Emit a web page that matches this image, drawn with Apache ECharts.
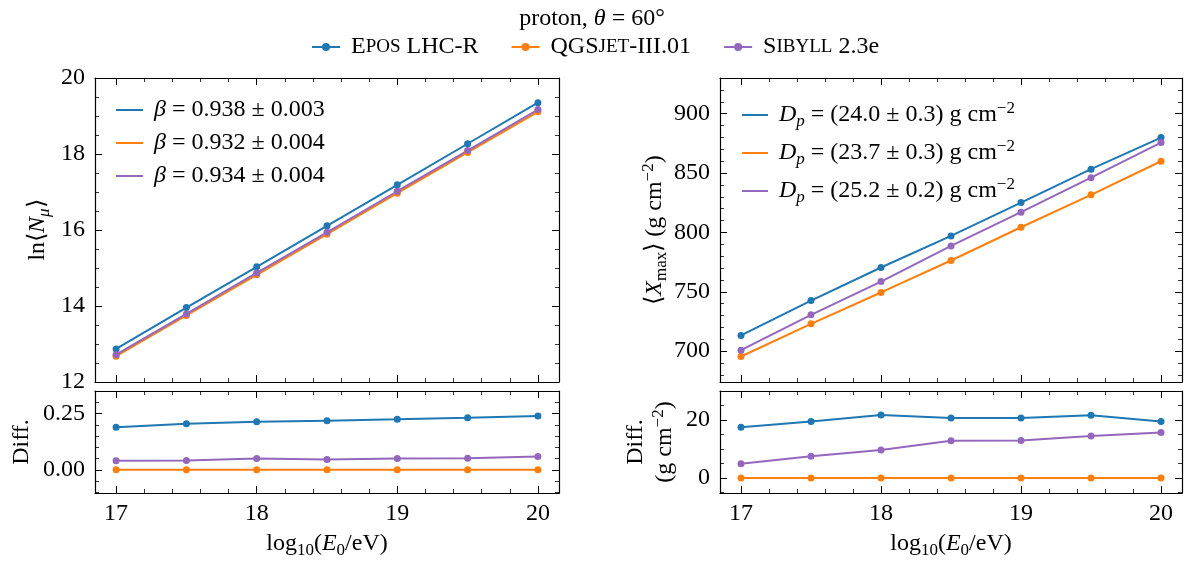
<!DOCTYPE html>
<html>
<head>
<meta charset="utf-8">
<title>proton, theta = 60</title>
<script src="https://cdn.jsdelivr.net/npm/echarts@6/dist/echarts.min.js"></script>
<style>
html, body { margin: 0; padding: 0; background: #fff; }
#main { width: 1184px; height: 565px; }
</style>
</head>
<body>
<div id="main"></div>
<script>
// --- data ---
const energies = [17, 17.5, 18, 18.5, 19, 19.5, 20];
const models = ['Epos LHC-R', 'QGSjet-III.01', 'Sibyll 2.3e'];
const colors = ['#1f77b4', '#ff7f0e', '#9467bd'];

// ln<N_mu>
const lnNmuEpos = [12.87, 13.96, 15.03, 16.11, 17.19, 18.27, 19.35];
const lnNmuQgs  = [12.68, 13.75, 14.82, 15.89, 16.97, 18.04, 19.11];
const lnNmuSib  = [12.72, 13.79, 14.87, 15.94, 17.02, 18.09, 19.17];
// difference to QGSjet
const diffNmuEpos = [0.190, 0.205, 0.214, 0.219, 0.225, 0.232, 0.240];
const diffNmuQgs  = [0, 0, 0, 0, 0, 0, 0];
const diffNmuSib  = [0.040, 0.042, 0.051, 0.046, 0.051, 0.052, 0.060];

// <X_max>
const xmaxEpos = [713.2, 742.6, 770.4, 797.0, 825.1, 853.2, 879.8];
const xmaxQgs  = [695.5, 723.0, 749.4, 776.3, 804.3, 831.6, 859.9];
const xmaxSib  = [700.8, 730.6, 758.6, 788.6, 817.0, 846.1, 875.6];
const diffXmaxEpos = [17.5, 19.5, 21.7, 20.7, 20.7, 21.6, 19.5];
const diffXmaxQgs  = [0, 0, 0, 0, 0, 0, 0];
const diffXmaxSib  = [4.9, 7.5, 9.6, 12.8, 12.9, 14.5, 15.7];

const betaLabels = ['β = 0.938 ± 0.003', 'β = 0.932 ± 0.004', 'β = 0.934 ± 0.004'];
const dpLabels = ['Dp = (24.0 ± 0.3) g cm-2', 'Dp = (23.7 ± 0.3) g cm-2', 'Dp = (25.2 ± 0.2) g cm-2'];

// tick labels
const xTicks = [17, 18, 19, 20];
const lnNmuTicks = [12, 14, 16, 18, 20];
const diffNmuTicks = [0, 0.25];
const xmaxTicks = [700, 750, 800, 850, 900];
const diffXmaxTicks = [0, 20];

const FONT = 'Liberation Serif';
const FS = 24;
const base = { fontFamily: FONT, fontWeight: 'normal', color: '#000' };
const rich = {
  t: Object.assign({ fontSize: FS, lineHeight: 28 }, base),
  i: Object.assign({ fontSize: FS, fontStyle: 'italic', lineHeight: 28 }, base),
  sub: Object.assign({ fontSize: 17, verticalAlign: 'bottom', lineHeight: 30 }, base),
  subi: Object.assign({ fontSize: 17, fontStyle: 'italic', verticalAlign: 'bottom', lineHeight: 30 }, base),
  sup: Object.assign({ fontSize: 17, verticalAlign: 'top', lineHeight: 30 }, base),
  sc: Object.assign({ fontSize: 19, lineHeight: 28 }, base)
};

function steps(a, b, step) {
  const out = [];
  for (let v = a; v <= b + 1e-9; v += step) out.push(+v.toFixed(4));
  return out;
}

const grids = [
  { left: 95, top: 78, width: 464, height: 304 },
  { left: 95, top: 391, width: 464, height: 102 },
  { left: 720, top: 78, width: 462, height: 304 },
  { left: 720, top: 391, width: 462, height: 102 }
];

const xAxes = [];
const yAxes = [];

// major (with axis line) and minor tick axes, on both sides of a panel
function addAxes(list, dim, grid, min, max, majors, minors, label, name) {
  const sides = dim === 'x' ? ['bottom', 'top'] : ['left', 'right'];
  let mainIndex = -1;
  sides.forEach((pos, s) => {
    const major = {
      type: 'value', gridIndex: grid, position: pos, min: min, max: max,
      axisLine: { show: true, onZero: false, lineStyle: { color: '#000', width: 1.2 } },
      axisTick: { show: true, inside: true, length: 7, customValues: majors, lineStyle: { color: '#000', width: 1 } },
      axisLabel: { show: false },
      splitLine: { show: false }
    };
    if (s === 0) {
      mainIndex = list.length;
      if (label) {
        major.axisLabel = {
          show: true, customValues: majors,
          formatter: v => '{t|' + label(v) + '}',
          rich: rich, fontFamily: FONT, fontSize: FS, color: '#000',
          margin: dim === 'x' ? 7 : 10
        };
      }
      if (name) Object.assign(major, name);
    }
    list.push(major);
    list.push({
      type: 'value', gridIndex: grid, position: pos, min: min, max: max,
      axisLine: { show: false, onZero: false },
      axisTick: { show: true, inside: true, length: 4, customValues: minors, lineStyle: { color: '#000', width: 0.8 } },
      axisLabel: { show: false },
      splitLine: { show: false }
    });
  });
  return mainIndex;
}

const xName = {
  name: '{t|log}{sub|10}{t|(}{i|E}{sub|0}{t|/eV)}',
  nameLocation: 'middle', nameGap: 36,
  nameTextStyle: { rich: rich }
};
function yName(text, gap) {
  return { name: text, nameLocation: 'middle', nameRotate: 90, nameGap: gap, nameTextStyle: { rich: rich } };
}

const xMinor = steps(17, 20, 0.2);
const axIdx = [];
for (let g = 0; g < 4; g++) {
  const isBottom = g === 1 || g === 3;
  axIdx[g] = { x: addAxes(xAxes, 'x', g, 16.85, 20.15, xTicks, xMinor,
    isBottom ? (v => String(v)) : null, isBottom ? xName : null) };
}
axIdx[0].y = addAxes(yAxes, 'y', 0, 12, 20, lnNmuTicks, steps(12, 20, 0.5), v => String(v),
  yName('{t|ln⟨}{i|N}{subi|μ}{t|⟩}', 42));
axIdx[1].y = addAxes(yAxes, 'y', 1, -0.103, 0.351, diffNmuTicks, steps(-0.1, 0.35, 0.05), v => v.toFixed(2),
  yName('{t|Diff.}', 59));
axIdx[2].y = addAxes(yAxes, 'y', 2, 674, 930, xmaxTicks, steps(680, 930, 10), v => String(v),
  yName('{t|⟨}{i|X}{sub|max}{t|⟩ (g cm}{sup|−2}{t|)}', 42));
axIdx[3].y = addAxes(yAxes, 'y', 3, -5.2, 30, diffXmaxTicks, steps(-5, 30, 5), v => String(v),
  yName('{t|Diff.}\n{t|(g cm}{sup|−2}{t|)}', 40));

function pairs(ys) { return energies.map((e, i) => [e, ys[i]]); }

function lineSeries(name, color, ys, g) {
  return {
    type: 'line', name: name, data: pairs(ys),
    xAxisIndex: axIdx[g].x, yAxisIndex: axIdx[g].y,
    symbol: 'circle', symbolSize: 7, showSymbol: true,
    lineStyle: { width: 2, color: color }, itemStyle: { color: color },
    emphasis: { disabled: true }, silent: true
  };
}

const panelData = [
  [lnNmuEpos, lnNmuQgs, lnNmuSib],
  [diffNmuEpos, diffNmuQgs, diffNmuSib],
  [xmaxEpos, xmaxQgs, xmaxSib],
  [diffXmaxEpos, diffXmaxQgs, diffXmaxSib]
];
const panelNames = [betaLabels, models, dpLabels, models];
const series = [];
panelData.forEach((set, g) => {
  set.forEach((ys, k) => series.push(lineSeries(panelNames[g][k], colors[k], ys, g)));
});

const modelRich = {
  'Epos LHC-R': '{t| E}{sc|POS}{t| LHC-R}',
  'QGSjet-III.01': '{t| QGS}{sc|JET}{t|-III.01}',
  'Sibyll 2.3e': '{t| S}{sc|IBYLL}{t| 2.3e}'
};
function betaRich(n) { return '{t| }{i|β}{t|' + n.slice(1) + '}'; }
function dpRich(n) {
  const body = n.slice(2, n.length - 2);
  return '{t| }{i|D}{subi|p}{t|' + body + '}{sup|−2}';
}

const option = {
  animation: false,
  backgroundColor: '#fff',
  textStyle: { fontFamily: FONT },
  title: {
    text: '{t|proton, }{i|θ}{t| = 60°}',
    left: 'center', top: 0,
    textStyle: { rich: rich, fontWeight: 'normal' }
  },
  legend: [
    {
      data: models, top: 30, left: 306, itemGap: 32, itemWidth: 28, itemHeight: 10,
      selectedMode: false,
      formatter: n => modelRich[n],
      textStyle: { rich: rich }
    },
    {
      data: betaLabels, orient: 'vertical', left: 111, top: 93, itemGap: 9,
      icon: 'rect', itemWidth: 27, itemHeight: 2, selectedMode: false,
      formatter: betaRich, textStyle: { rich: rich }
    },
    {
      data: dpLabels, orient: 'vertical', left: 737, top: 95, itemGap: 8,
      icon: 'rect', itemWidth: 26, itemHeight: 2, selectedMode: false,
      formatter: dpRich, textStyle: { rich: rich }
    }
  ],
  grid: grids,
  xAxis: xAxes,
  yAxis: yAxes,
  series: series
};

const myChart = echarts.init(document.getElementById('main'));
myChart.setOption(option);
window.onresize = function () { myChart.resize(); };
</script>
</body>
</html>
